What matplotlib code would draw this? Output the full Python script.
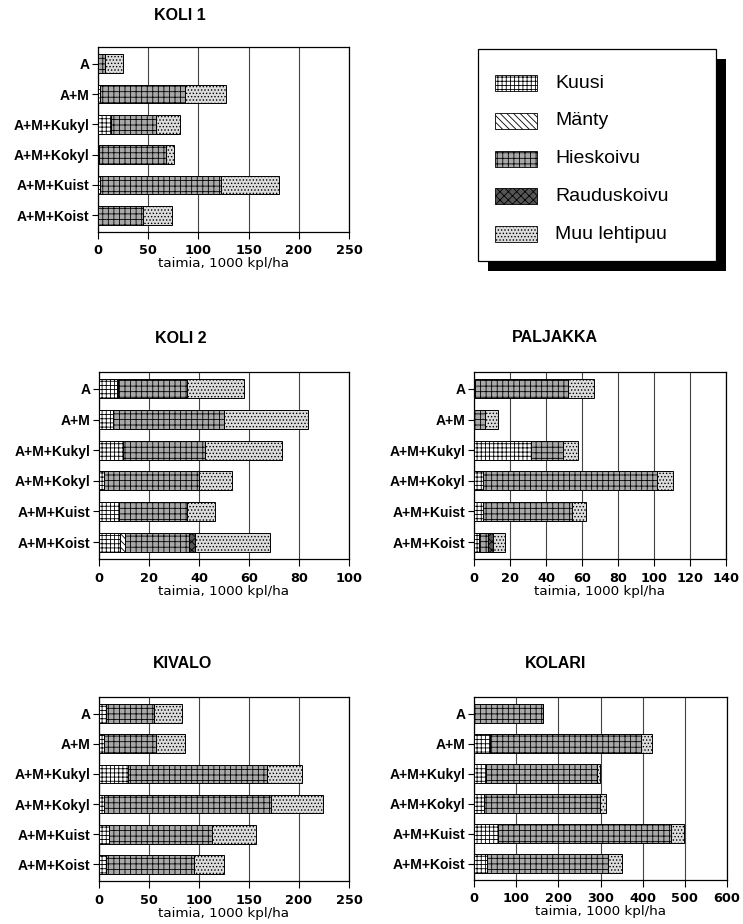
import matplotlib.pyplot as plt
from matplotlib.patches import Rectangle

plt.rcParams['font.family'] = ['Liberation Sans', 'DejaVu Sans']
plt.rcParams['font.weight'] = 'bold'
plt.rcParams['hatch.linewidth'] = 0.6

categories = ["A", "A+M", "A+M+Kukyl", "A+M+Kokyl", "A+M+Kuist", "A+M+Koist"]
species = ["Kuusi", "Mänty", "Hieskoivu", "Rauduskoivu", "Muu lehtipuu"]

# rows: Kuusi, Mänty, Hieskoivu, Rauduskoivu, Muu lehtipuu (1000 kpl/ha)
koli1 = [[0, 2, 13, 1, 2, 0],
         [0, 0, 0, 0, 0, 0],
         [7, 85, 45, 67, 121, 45],
         [0, 0, 0, 0, 0, 0],
         [18, 40, 24, 8, 57, 29]]
koli2 = [[7, 5.5, 9.5, 2, 8, 8.5],
         [0.5, 0, 0, 0, 0, 2],
         [27.5, 44.5, 33, 38, 27, 25.5],
         [0, 0, 0, 0, 0, 2.5],
         [23, 33.5, 30.5, 13, 11.5, 30]]
paljakka = [[0.5, 0, 31.5, 4.8, 5.2, 3],
            [0, 0, 0, 0, 0, 0],
            [51.5, 6, 18, 97, 49.5, 5],
            [0, 0, 0, 0, 0, 2.4],
            [14.7, 7.5, 8, 9, 7.3, 6.6]]
kivalo = [[7, 4.7, 29, 4.7, 10, 6.7],
          [0, 0, 0, 0, 0, 0],
          [47.5, 52.5, 139, 167, 103, 88],
          [0, 0, 0, 0, 0, 0],
          [28.5, 29, 35, 52, 44, 30]]
kolari = [[0, 38, 28.5, 24, 56, 30],
          [0, 0, 0, 0, 0, 0],
          [163, 358, 262.5, 275, 411, 288],
          [0, 0, 0, 0, 0, 0],
          [0, 26, 7, 14.5, 30, 34]]

faces = ["white", "white", "#a8a8a8", "#555555", "#dcdcdc"]
hatches = ["++++", "\\\\\\\\\\", "+++", "xxxx", "....."]

W, H = 743, 924
fig = plt.figure(figsize=(W / 100, H / 100), dpi=100)


def box(l, t, r, b):
    return [l / W, 1 - b / H, (r - l) / W, (b - t) / H]


def panel(rect, data, xmax, step, title, tx, ty):
    ax = fig.add_axes(box(*rect))
    y = list(range(len(categories)))
    left = [0] * len(categories)
    for i, vals in enumerate(data):
        ax.barh(y, vals, left=left, height=0.62, color=faces[i], hatch=hatches[i],
                edgecolor="black", linewidth=0.7, zorder=3)
        left = [a + b for a, b in zip(left, vals)]
    ax.set_xlim(0, xmax)
    ax.set_ylim(len(categories) - 0.45, -0.55)
    ax.set_xticks(range(0, xmax + 1, step))
    ax.set_yticks(y)
    ax.set_yticklabels(categories, fontsize=10)
    for lab in ax.get_xticklabels():
        lab.set_family('DejaVu Sans')
        lab.set_fontsize(9.3)
    ax.tick_params(axis='x', length=5, width=0.8, pad=4)
    ax.tick_params(axis='y', length=4, width=0.8, pad=2)
    ax.grid(axis='x', color='#444444', linewidth=0.8, zorder=0)
    for s in ax.spines.values():
        s.set_linewidth(0.9)
    ax.set_xlabel("taimia, 1000 kpl/ha", fontsize=9.7, family='DejaVu Sans', labelpad=0)
    fig.text(tx / W, 1 - ty / H, title, ha='center', va='center', fontsize=11.5)
    return ax


panel((98, 47, 349, 232), koli1, 250, 50, "KOLI 1", 180, 16)
panel((99, 372, 349, 559), koli2, 100, 20, "KOLI 2", 181, 339)
panel((474, 372, 726, 559), paljakka, 140, 20, "PALJAKKA", 555, 338)
panel((99, 697, 349, 881), kivalo, 250, 50, "KIVALO", 182, 664)
panel((474, 697, 727, 880), kolari, 600, 100, "KOLARI", 556, 664)

# legend box with solid shadow
lg = fig.add_axes(box(476, 47, 728, 273))
lg.set_xlim(476, 728)
lg.set_ylim(273, 47)
lg.axis('off')
lg.add_patch(Rectangle((488, 59), 238, 212, facecolor='black', edgecolor='none'))
lg.add_patch(Rectangle((478, 49), 238, 212, facecolor='white', edgecolor='black', linewidth=0.9))
for i, name in enumerate(species):
    yc = 83 + i * 37.8
    lg.add_patch(Rectangle((495, yc - 8), 42, 16, facecolor=faces[i], hatch=hatches[i],
                           edgecolor='black', linewidth=0.6))
    lg.text(555, yc, name, va='center', ha='left', fontsize=14, fontweight='normal')

fig.savefig("out.png", dpi=100)
